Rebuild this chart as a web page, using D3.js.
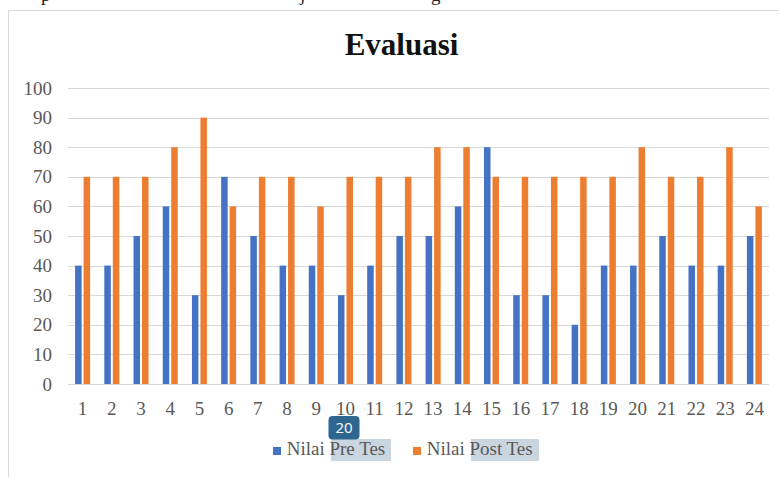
<!DOCTYPE html>
<html><head><meta charset="utf-8">
<script src="https://cdn.jsdelivr.net/npm/d3@7"></script>
<style>body{margin:0;background:#fff;}svg{display:block;}</style>
</head><body>
<svg id="c" width="780" height="477"></svg>
<script>
const categories = ["1","2","3","4","5","6","7","8","9","10","11","12","13","14","15","16","17","18","19","20","21","22","23","24"];
const preTes  = [40,40,50,60,30,70,50,40,40,30,40,50,50,60,80,30,30,20,40,40,50,40,40,50];
const postTes = [70,70,70,80,90,60,70,70,60,70,70,70,80,80,70,70,70,70,70,80,70,70,80,60];
const yTicks = [0,10,20,30,40,50,60,70,80,90,100];
const seriesNames = ["Nilai Pre Tes","Nilai Post Tes"];
const colors = ["#4472C4","#ED7D31"];

const svg = d3.select("#c");
const serif = "Liberation Serif, Times New Roman, serif";

// cut-off text fragments from the document above
[["p",41],["j",300],["g",431]].forEach(([t,px])=>{
  svg.append("text").attr("x",px).attr("y",1).attr("font-family",serif).attr("font-size",19).attr("fill","#222").text(t);
});

// chart frame
svg.append("path").attr("d","M8.5,477 V10.5 H779").attr("fill","none").attr("stroke","#d9d9d9").attr("stroke-width",1);

const x = d3.scaleBand().domain(categories).range([68,769]).paddingInner(0).paddingOuter(0);
const y = d3.scaleLinear().domain([0,100]).range([384,88]);

// gridlines
svg.append("g").selectAll("line").data(yTicks).join("line")
  .attr("x1",68).attr("x2",769)
  .attr("y1",d=>Math.round(y(d))+0.5).attr("y2",d=>Math.round(y(d))+0.5)
  .attr("stroke","#d9d9d9").attr("stroke-width",1);

// y labels
svg.append("g").selectAll("text").data(yTicks).join("text")
  .attr("x",52).attr("y",d=>y(d)+6.5).attr("text-anchor","end")
  .attr("font-family",serif).attr("font-size",19).attr("fill","#595959").text(d=>d);

// x labels
svg.append("g").selectAll("text").data(categories).join("text")
  .attr("x",d=>x(d)+x.bandwidth()/2).attr("y",415).attr("text-anchor","middle")
  .attr("font-family",serif).attr("font-size",19).attr("fill","#595959").text(d=>d);

// bars
const bw = 6.5, gap = 2;
[preTes, postTes].forEach((vals,si)=>{
  svg.append("g").selectAll("rect").data(vals).join("rect")
    .attr("x",(d,i)=>x(categories[i])+x.bandwidth()/2 + (si===0 ? -(bw+gap/2) : gap/2))
    .attr("width",bw)
    .attr("y",d=>y(d)).attr("height",d=>y(0)-y(d))
    .attr("fill",colors[si]);
});

// title
svg.append("text").attr("x",401.5).attr("y",55).attr("text-anchor","middle")
  .attr("font-family",serif).attr("font-size",31).attr("font-weight","bold").attr("fill","#111").text("Evaluasi");

// legend highlights
svg.append("rect").attr("x",331).attr("y",439).attr("width",60).attr("height",22).attr("fill","#c9d6e0");
svg.append("rect").attr("x",471).attr("y",439).attr("width",68).attr("height",22).attr("fill","#c9d6e0");

// legend
const legX = [273,413];
seriesNames.forEach((n,i)=>{
  svg.append("rect").attr("x",legX[i]).attr("y",447).attr("width",8).attr("height",8).attr("fill",colors[i]);
  svg.append("text").attr("x",legX[i]+13.7).attr("y",455).attr("font-family",serif).attr("font-size",19).attr("fill","#595959").text(n);
});

// badge
svg.append("rect").attr("x",328.5).attr("y",416).attr("width",31).attr("height",23.5).attr("rx",4).attr("fill","#2f6690");
svg.append("text").attr("x",344).attr("y",433).attr("text-anchor","middle")
  .attr("font-family","Open Sans, Noto Sans, sans-serif").attr("font-size",15).attr("fill","#fff").text("20");
</script>
</body></html>
